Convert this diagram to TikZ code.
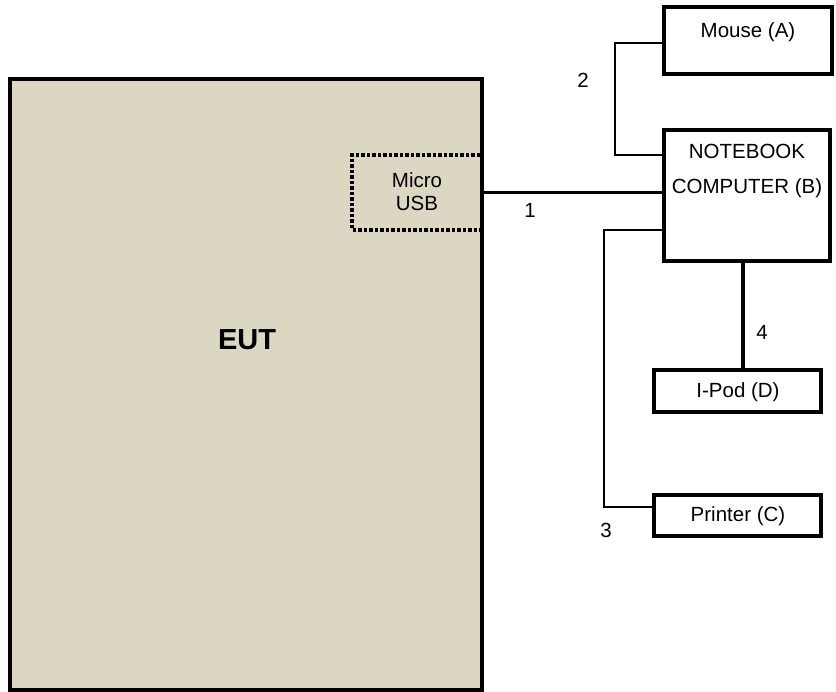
\documentclass[tikz,border=0pt]{standalone}
\usepackage{fontspec}
\setmainfont{Liberation Sans}
\definecolor{eutfill}{RGB}{220,215,194}
\begin{document}
\begin{tikzpicture}[x=1pt,y=-1pt,
  box/.style={draw=black, line width=4pt, fill=white, inner sep=0pt, outer sep=0pt},
  txt/.style={font=\fontsize{20.5}{24}\selectfont, inner sep=0pt, align=center},
  thickconn/.style={line width=3pt},
  thinconn/.style={line width=1.8pt},
  dotline/.style={line width=3.5pt, dotted, line cap=butt}]
\useasboundingbox (0,0) rectangle (836,692);
% EUT
\node[draw=black, fill=eutfill, line width=4pt, inner sep=0pt, outer sep=0pt,
      minimum width=472pt, minimum height=611pt] (eut) at (246,384.5) {};
\node[font=\bfseries\fontsize{29}{34}\selectfont, inner sep=0pt] (euttxt) at (247,340) {EUT};
% Micro USB
\node[minimum width=128pt, minimum height=75pt, inner sep=0pt, outer sep=0pt] (usb) at (416,192.5) {};
\draw[dotline] (usb.north east) -- (usb.north west) -- (usb.south west) -- (usb.south east);
\node[font=\fontsize{20.5}{23}\selectfont, inner sep=0pt, align=center] (usbtxt) at (417,191.5) {Micro\\USB};
% devices
\node[box, minimum width=168pt, minimum height=67pt] (mouse) at (748,40.5) {};
\node[txt] (mousetxt) at (748,32) {Mouse (A)};
\node[box, minimum width=166pt, minimum height=131pt] (nb) at (747,195.5) {};
\node[font=\fontsize{20.5}{35}\selectfont, inner sep=0pt, align=center] (nbtxt) at (747,170.5) {NOTEBOOK\\COMPUTER (B)};
\node[box, minimum width=167pt, minimum height=42pt] (ipod) at (737.5,391) {};
\node[txt] (ipodtxt) at (738,392) {I-Pod (D)};
\node[box, minimum width=167pt, minimum height=41pt] (printer) at (737.5,515.5) {};
\node[txt] (printertxt) at (738,516) {Printer (C)};
% connectors
\coordinate (c2) at (615,155);
\coordinate (c3a) at (604,230);
\coordinate (c3b) at (604,507);
\coordinate (c4) at (743,0);
\draw[thickconn] (usb.east) -- (usb.east -| nb.west);
\draw[thinconn] ([yshift=-2.5pt]mouse.west) -| (c2) -- (c2 -| nb.west);
\draw[thinconn] (c3a -| nb.west) -- (c3a) -- (c3b) -- (c3b -| printer.west);
\draw[line width=3.5pt] (nb.south -| c4) -- (ipod.north -| c4);
% labels
\node[txt] (l1) at (530,210) {1};
\node[txt] (l2) at (583,80) {2};
\node[txt] (l3) at (606,530) {3};
\node[txt] (l4) at (762,332) {4};
\end{tikzpicture}
\end{document}
